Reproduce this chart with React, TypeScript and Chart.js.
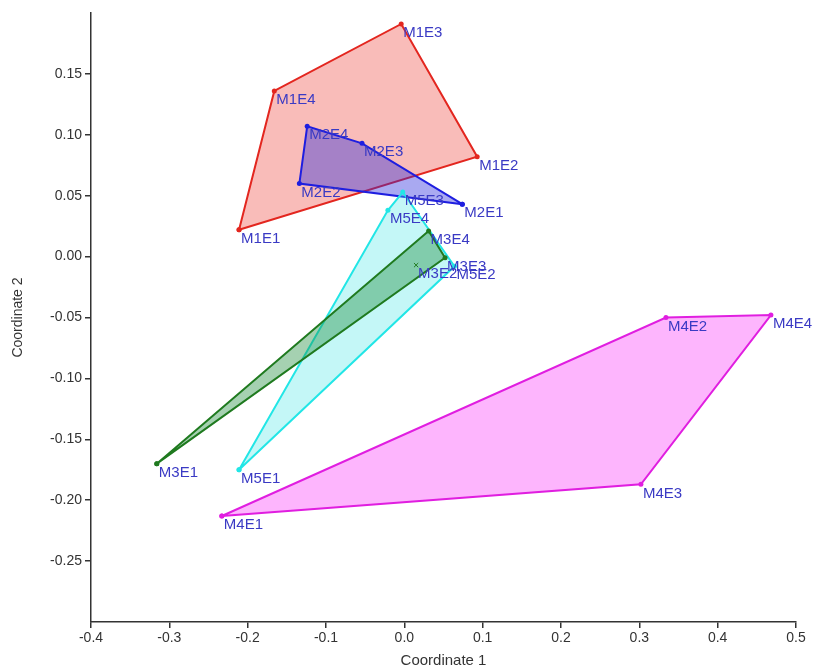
import React, { useEffect, useRef } from "react";
import { Chart, registerables } from "chart.js";

Chart.register(...registerables);

// Hull-ordered points for each group (x = Coordinate 1, y = Coordinate 2)
const m1Labels = ["M1E1", "M1E2", "M1E3", "M1E4"];
const m1X = [-0.211, 0.093, -0.004, -0.166];
const m1Y = [0.022, 0.082, 0.191, 0.136];

const m2Labels = ["M2E1", "M2E3", "M2E4", "M2E2"];
const m2X = [0.074, -0.054, -0.124, -0.134];
const m2Y = [0.043, 0.093, 0.107, 0.06];

const m5Labels = ["M5E1", "M5E2", "M5E3", "M5E4"];
const m5X = [-0.211, 0.064, -0.002, -0.021];
const m5Y = [-0.175, -0.008, 0.053, 0.038];

const m3Labels = ["M3E1", "M3E3", "M3E4"];
const m3X = [-0.316, 0.052, 0.031];
const m3Y = [-0.17, -0.001, 0.021];

// interior point of group M3
const m3InLabels = ["M3E2"];
const m3InX = [0.015];
const m3InY = [-0.007];

const m4Labels = ["M4E1", "M4E3", "M4E4", "M4E2"];
const m4X = [-0.233, 0.302, 0.468, 0.334];
const m4Y = [-0.213, -0.187, -0.048, -0.05];

const xTicks = [-0.4, -0.3, -0.2, -0.1, 0.0, 0.1, 0.2, 0.3, 0.4, 0.5];
const yTickLabels = ["-0.25", "-0.20", "-0.15", "-0.10", "-0.05", "0.00", "0.05", "0.10", "0.15"];

const LABEL_COLOR = "#3a3ac4";
const FONT = "'Liberation Sans', Arial, sans-serif";

function closed(xs: number[], ys: number[]) {
  const pts = xs.map((x, i) => ({ x, y: ys[i] }));
  pts.push({ ...pts[0] });
  return pts;
}

function hullDataset(
  xs: number[],
  ys: number[],
  labels: string[],
  line: string,
  fill: string,
  order: number
) {
  return {
    data: closed(xs, ys),
    pointLabels: labels,
    showLine: true,
    fill: "shape",
    borderColor: line,
    backgroundColor: fill,
    borderWidth: 2,
    pointRadius: 2.5,
    pointBackgroundColor: line,
    pointBorderColor: line,
    pointBorderWidth: 0,
    tension: 0,
    order,
  } as any;
}

const pointLabelPlugin = {
  id: "pointLabels",
  afterDatasetsDraw(chart: any) {
    const ctx = chart.ctx;
    ctx.save();
    ctx.font = "15px " + FONT;
    ctx.fillStyle = LABEL_COLOR;
    ctx.textAlign = "left";
    ctx.textBaseline = "middle";
    chart.data.datasets.forEach((ds: any, i: number) => {
      if (!ds.pointLabels) return;
      const meta = chart.getDatasetMeta(i);
      ds.pointLabels.forEach((lab: string, j: number) => {
        const el = meta.data[j];
        if (!el) return;
        ctx.fillText(lab, el.x + 2, el.y + 9);
      });
    });
    ctx.restore();
  },
};

export default function App() {
  const ref = useRef<HTMLCanvasElement | null>(null);

  useEffect(() => {
    if (!ref.current) return;
    const tickFont = { family: FONT, size: 14 };
    const chart = new Chart(ref.current, {
      type: "scatter",
      data: {
        datasets: [
          hullDataset(m1X, m1Y, m1Labels, "#e3261f", "rgba(240,80,70,0.38)", 6),
          hullDataset(m2X, m2Y, m2Labels, "#1e1ee0", "rgba(40,40,220,0.4)", 5),
          hullDataset(m5X, m5Y, m5Labels, "#22e6e6", "rgba(60,230,230,0.3)", 4),
          hullDataset(m3X, m3Y, m3Labels, "#1f7a1f", "rgba(30,140,60,0.4)", 3),
          {
            data: m3InX.map((x, i) => ({ x, y: m3InY[i] })),
            pointLabels: m3InLabels,
            showLine: false,
            pointStyle: "crossRot",
            pointRadius: 3,
            borderColor: "#1f7a1f",
            pointBorderColor: "#1f7a1f",
            pointBorderWidth: 1,
            order: 2,
          } as any,
          hullDataset(m4X, m4Y, m4Labels, "#e01ee0", "rgba(250,60,250,0.38)", 1),
        ],
      },
      plugins: [pointLabelPlugin],
      options: {
        animation: false,
        responsive: false,
        events: [],
        layout: { padding: { left: 0, top: 13, right: 22, bottom: 0 } },
        plugins: {
          legend: { display: false },
          tooltip: { enabled: false },
        },
        scales: {
          x: {
            type: "linear",
            min: -0.4,
            max: 0.5,
            afterFit: (s: any) => {
              s.height = 50;
            },
            afterBuildTicks: (s: any) => {
              s.ticks = xTicks.map((v) => ({ value: v }));
            },
            ticks: {
              color: "#333",
              font: tickFont,
              padding: 2,
              maxRotation: 0,
              callback: (v: any) => Number(v).toFixed(1),
            },
            grid: {
              display: true,
              drawOnChartArea: false,
              drawTicks: true,
              tickLength: 6,
              color: "#333",
              lineWidth: 1.5,
            },
            border: { display: true, color: "#333", width: 1.5 },
            title: {
              display: true,
              text: "Coordinate 1",
              color: "#333",
              font: { family: FONT, size: 15 },
              padding: { top: 2, bottom: 2 },
            },
          },
          y: {
            type: "linear",
            min: -0.3,
            max: 0.2,
            afterFit: (s: any) => {
              s.width = 91;
            },
            afterBuildTicks: (s: any) => {
              s.ticks = yTickLabels.map((t) => ({ value: parseFloat(t) }));
            },
            ticks: {
              color: "#333",
              font: tickFont,
              padding: 3,
              callback: (v: any) => Number(v).toFixed(2),
            },
            grid: {
              display: true,
              drawOnChartArea: false,
              drawTicks: true,
              tickLength: 6,
              color: "#333",
              lineWidth: 1.5,
            },
            border: { display: true, color: "#333", width: 1.5 },
            title: {
              display: true,
              text: "Coordinate 2",
              color: "#333",
              font: { family: FONT, size: 14 },
              padding: { top: 10, bottom: 3 },
            },
          },
        },
      } as any,
    });
    return () => chart.destroy();
  }, []);

  return (
    <div style={{ position: "absolute", left: 0, top: 0, width: 818, height: 672, background: "#fff" }}>
      <canvas ref={ref} width={818} height={672} style={{ display: "block" }} />
    </div>
  );
}
